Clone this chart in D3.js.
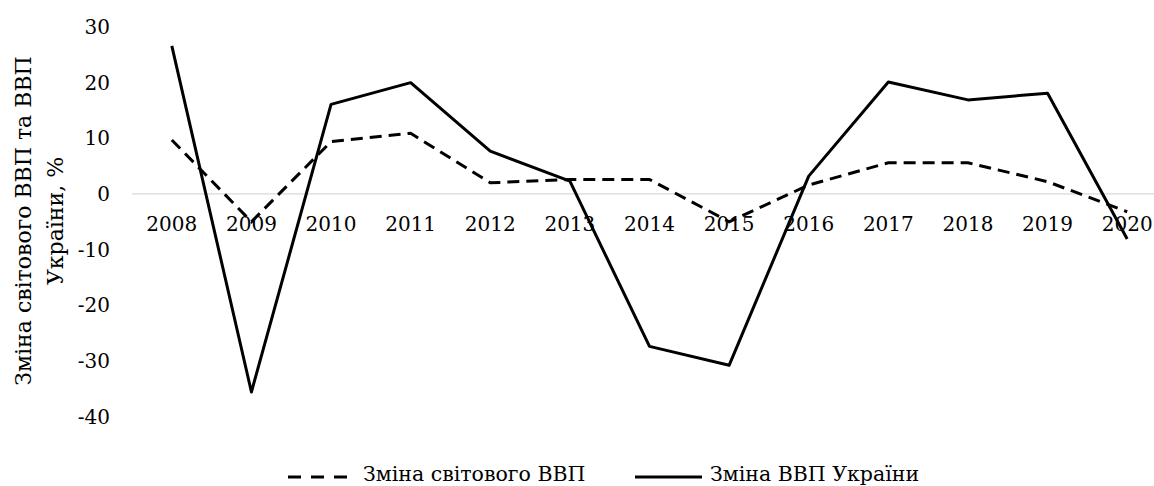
<!DOCTYPE html>
<html>
<head>
<meta charset="utf-8">
<script src="https://cdn.jsdelivr.net/npm/d3@7"></script>
<style>
    body { margin: 0; background: #fff; }
    svg text { font-family: "DejaVu Serif", serif; font-size: 20px; fill: #000; }
</style>
</head>
<body>
<svg id="main-svg" width="1154" height="486"></svg>
<script>
var years = ['2008', '2009', '2010', '2011', '2012', '2013', '2014',
             '2015', '2016', '2017', '2018', '2019', '2020'];
// Зміна світового ВВП, %
var worldGdp = [9.7, -5.0, 9.4, 10.9, 2.0, 2.6, 2.6, -5.0, 1.6, 5.6, 5.6, 2.2, -3.2];
// Зміна ВВП України, %
var ukraineGdp = [26.6, -35.6, 16.1, 20.0, 7.7, 2.3, -27.4, -30.8, 3.2, 20.1, 16.9, 18.1, -8.1];
var yTicks = [30, 20, 10, 0, -10, -20, -30, -40];
var seriesNames = ['Зміна світового ВВП', 'Зміна ВВП України'];

var svg = d3.select('#main-svg');

// the plot runs past the right edge of the picture, as in the original
var x = d3.scaleBand().domain(years).range([132, 1167]);
var y = d3.scaleLinear().domain([-40, 30]).range([416.5, 27]);

// zero line
svg.append('line')
    .attr('x1', x.range()[0]).attr('x2', x.range()[1])
    .attr('y1', y(0)).attr('y2', y(0))
    .attr('stroke', '#d9d9d9').attr('stroke-width', 1.3);

// y tick labels
svg.selectAll('text.ytick').data(yTicks).enter().append('text')
    .attr('class', 'ytick')
    .attr('x', 110)
    .attr('y', function(d) { return y(d); })
    .attr('dy', '0.35em')
    .attr('text-anchor', 'end')
    .text(function(d) { return d; });

// category labels under the zero line
svg.selectAll('text.xtick').data(years).enter().append('text')
    .attr('class', 'xtick')
    .attr('x', function(d) { return x(d) + x.bandwidth()/2; })
    .attr('y', y(0) + 30)
    .attr('dy', '0.35em')
    .attr('text-anchor', 'middle')
    .text(function(d) { return d; });

var line = d3.line()
    .x(function(d, i) { return x(years[i]) + x.bandwidth()/2; })
    .y(function(d) { return y(d); });

svg.append('path')
    .datum(worldGdp)
    .attr('d', line)
    .attr('fill', 'none')
    .attr('stroke', '#000')
    .attr('stroke-width', 3)
    .attr('stroke-dasharray', '12,7');

svg.append('path')
    .datum(ukraineGdp)
    .attr('d', line)
    .attr('fill', 'none')
    .attr('stroke', '#000')
    .attr('stroke-width', 3)
    .attr('stroke-linejoin', 'round');

// y axis title, two lines
var title = svg.append('text')
    .attr('transform', 'translate(23,221) rotate(-90)')
    .attr('text-anchor', 'middle')
    .style('font-size', '22px');
title.append('tspan').attr('x', 0).attr('dy', '0.35em').text('Зміна світового ВВП та ВВП');
title.append('tspan').attr('x', 0).attr('dy', 32).text('України, %');

// legend
var legend = svg.append('g');
legend.append('line')
    .attr('x1', 288).attr('x2', 347).attr('y1', 477).attr('y2', 477)
    .attr('stroke', '#000').attr('stroke-width', 3)
    .attr('stroke-dasharray', '13,10');
legend.append('text')
    .attr('x', 363).attr('y', 481)
    .style('font-size', '20.5px')
    .text(seriesNames[0]);
legend.append('line')
    .attr('x1', 635).attr('x2', 702).attr('y1', 477).attr('y2', 477)
    .attr('stroke', '#000').attr('stroke-width', 3);
legend.append('text')
    .attr('x', 710).attr('y', 481)
    .style('font-size', '20.5px')
    .text(seriesNames[1]);
</script>
</body>
</html>
